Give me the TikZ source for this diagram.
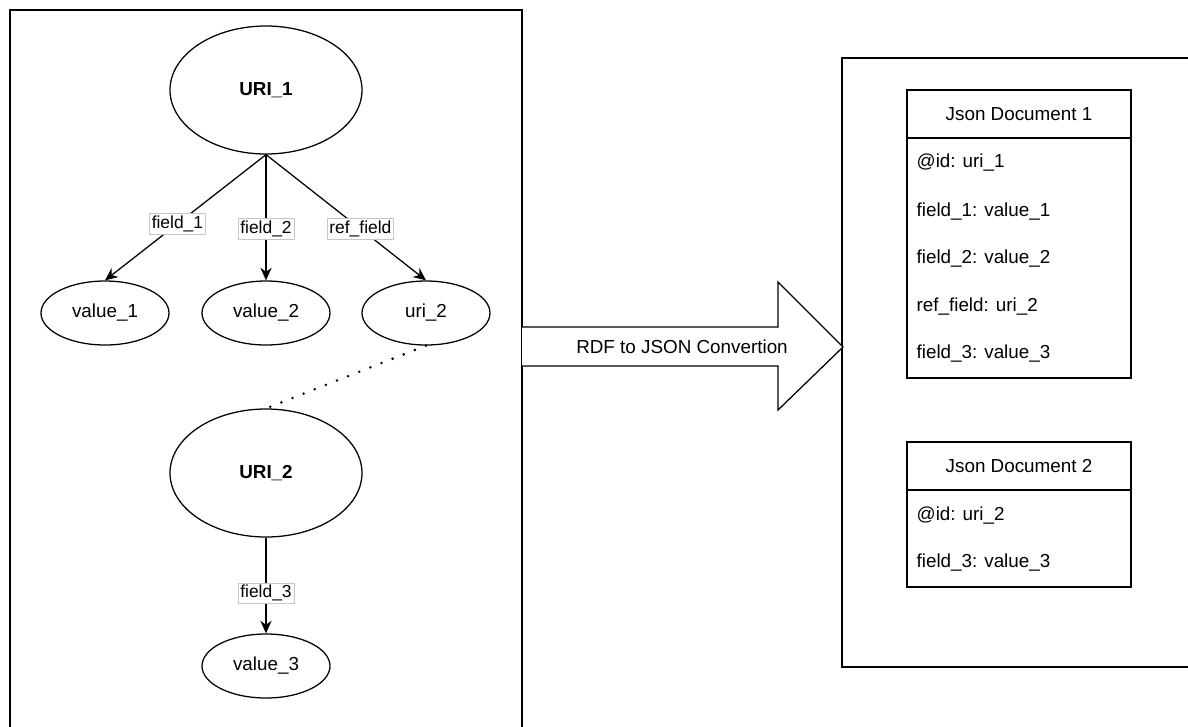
\documentclass[tikz,border=0pt]{standalone}
\usepackage{fontspec}
\setmainfont{Liberation Sans}
\usetikzlibrary{positioning,shapes.geometric,arrows.meta}

\begin{document}
\begin{tikzpicture}[
	font=\fontsize{13.4}{16}\selectfont,
	line width=0.9pt,
	nodo/.style={draw, ellipse, minimum width=3.2cm, minimum height=1.6cm, inner sep=0pt},
	radice/.style={nodo, minimum width=4.8cm, minimum height=3.2cm, font=\fontsize{13.4}{16}\selectfont\bfseries},
	campo/.style={draw=gray!45, line width=0.4pt, fill=white, inner sep=1.5pt, font=\fontsize{12.4}{14}\selectfont},
	freccia/.style={-{Stealth[length=9pt, width=8pt]}},
	riga/.style={anchor=west, inner sep=0pt},
	titolo/.style={draw, minimum width=5.6cm, minimum height=1.2cm, inner sep=0pt, outer sep=0pt},
	corpo/.style={draw, minimum width=5.6cm, inner sep=0pt, outer sep=0pt}
	]
	\clip (0,0) rectangle (29.7,-18.15);
	
	% Riquadri esterni
	\draw (0.25,-0.25) rectangle (13.05,-18.6);
	\draw (21.05,-1.45) rectangle (30.5,-16.675);
	
	% Grafo RDF
	\node[radice] (URI1) at (6.65,-2.25) {URI\_1};
	\node[nodo] (val1) at (2.625,-7.825) {value\_1};
	\node[nodo] (val2) at (6.65,-7.825) {value\_2};
	\node[nodo] (ref) at (10.65,-7.825) {uri\_2};
	\node[radice] (URI2) at (6.65,-11.825) {URI\_2};
	\node[nodo] (val3) at (6.65,-16.65) {value\_3};
	
	\draw[freccia] (URI1.south) -- node[campo, pos=0.55] {field\_1} (val1.north);
	\draw[freccia] (URI1.south) -- node[campo, pos=0.59] {field\_2} (val2.north);
	\draw[freccia] (URI1.south) -- node[campo, pos=0.59] {ref\_field} (ref.north);
	\draw[line width=2pt, dash pattern=on 0pt off 8.5pt, line cap=round] (ref.south) -- (URI2.north);
	\draw[freccia] (URI2.south) -- node[campo, pos=0.58] {field\_3} (val3.north);
	
	% Freccia di conversione
	\draw[fill=white] (13.05,-8.175) -- (19.45,-8.175) -- (19.45,-7.05) -- (21.075,-8.675)
		-- (19.45,-10.25) -- (19.45,-9.15) -- (13.05,-9.15);
	\node (conv) at (17.05,-8.675) {RDF to JSON Convertion};
	
	% Documenti JSON
	\node[titolo] (doc1) at (25.475,-2.85) {Json Document 1};
	\node[corpo, minimum height=6cm, below=0pt of doc1] (corpo1) {};
	\node[riga] (d1a) at (22.9,-4.075) {@id: uri\_1};
	\node[riga] (d1b) at (22.9,-5.3) {field\_1: value\_1};
	\node[riga] (d1c) at (22.9,-6.475) {field\_2: value\_2};
	\node[riga] (d1d) at (22.9,-7.675) {ref\_field: uri\_2};
	\node[riga] (d1e) at (22.9,-8.85) {field\_3: value\_3};
	
	\node[titolo] (doc2) at (25.475,-11.65) {Json Document 2};
	\node[corpo, minimum height=2.425cm, below=0pt of doc2] (corpo2) {};
	\node[riga] (d2a) at (22.9,-12.9) {@id: uri\_2};
	\node[riga] (d2b) at (22.9,-14.075) {field\_3: value\_3};
\end{tikzpicture}
\end{document}
